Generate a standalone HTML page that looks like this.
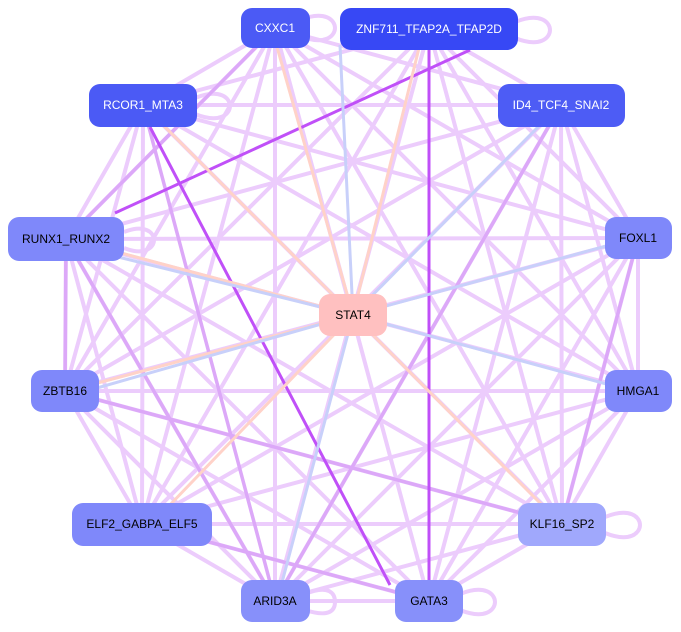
<!DOCTYPE html>
<html><head><meta charset="utf-8"><style>
html,body{margin:0;padding:0;background:#fff;width:681px;height:632px;overflow:hidden}
svg{display:block}
text{font-family:"Liberation Sans",sans-serif;font-size:12px;text-anchor:middle;dominant-baseline:central}
.l{stroke:#ecccfc;stroke-width:4;fill:none}
.m{stroke:#dca8f8;stroke-width:3.5;fill:none}
.d{stroke:#c050f8;stroke-width:3;fill:none}
.p{stroke:#ffd2c8;stroke-width:3;fill:none}
.b{stroke:#c8d0fa;stroke-width:3;fill:none}
</style></head><body>
<svg width="681" height="632" viewBox="0 0 681 632">
<g class="l">
<path d="M275 28L143 105M275 28L561 105M275 28L66 239M275 28L638 238M275 28L65 391M275 28L638 391M275 28L142 524M275 28L562 524M275 28L275 601M275 28L429 601"/>
<path d="M429 29L143 105M429 29L561 105M429 29L638 238M429 29L65 391M429 29L638 391M429 29L142 524M429 29L562 524M429 29L275 601"/>
<path d="M143 105L561 105M143 105L66 239M143 105L638 238M143 105L65 391M143 105L638 391M143 105L142 524M143 105L562 524"/>
<path d="M561 105L66 239M561 105L638 238M561 105L65 391M561 105L638 391M561 105L142 524M561 105L562 524M561 105L275 601M561 105L429 601"/>
<path d="M66 239L638 238M66 239L65 391M66 239L638 391M66 239L142 524M66 239L562 524M66 239L275 601M66 239L429 601"/>
<path d="M638 238L65 391M638 238L638 391M638 238L142 524M638 238L562 524M638 238L275 601M638 238L429 601"/>
<path d="M65 391L638 391M65 391L142 524M65 391L562 524M65 391L275 601M65 391L429 601"/>
<path d="M638 391L142 524M638 391L562 524M638 391L275 601M638 391L429 601"/>
<path d="M142 524L562 524M142 524L275 601M142 524L429 601M562 524L275 601M562 524L429 601M275 601L429 601"/>
<path d="M300 20c25-10 35 0 35 8s-10 18-35 8M515 22c25-10 35 0 35 8s-10 18-35 8M195 98c25-10 35 0 35 8s-10 18-35 8M124 232c20-8 30 0 30 8s-10 16-30 8M605 517c25-10 35 0 35 8s-10 18-35 8M460 594c25-10 35 0 35 8s-10 18-35 8M305 594c25-10 30 0 30 8s-5 16-30 8"/>
</g>
<g class="m">
<path d="M143 105L275 601M66 239L65 391M275 28L66 239M66 239L275 601M142 524L429 601M561 105L275 601M65 391L562 524M638 238L562 524"/>
</g>
<g class="d">
<path d="M470 50L115 213M429 50L429 590M150 127L390 585"/>
</g>
<g>
<path class="p" d="M353 315L275 40M353 315L420 44M353 315L160 122M353 315L110 250M353 315L90 385M353 315L165 510M353 315L545 508"/>
<path class="b" d="M353 315L540 125M353 315L610 245M353 315L610 385M353 315L280 590M353 315L340 45M353 315L110 255M353 315L90 390"/>
</g>
<g>
<rect x="241" y="8" width="69" height="40" rx="11" fill="#4b5af5"/><text x="275" y="28" fill="#fff">CXXC1</text>
<rect x="340" y="8" width="178" height="42" rx="11" fill="#3748f5"/><text x="429" y="29" fill="#fff">ZNF711_TFAP2A_TFAP2D</text>
<rect x="89" y="84" width="108" height="43" rx="11" fill="#4b5af5"/><text x="143" y="105" fill="#fff">RCOR1_MTA3</text>
<rect x="498" y="84" width="127" height="43" rx="11" fill="#4d5cf5"/><text x="561" y="105" fill="#fff">ID4_TCF4_SNAI2</text>
<rect x="8" y="217" width="116" height="44" rx="11" fill="#7f88fa"/><text x="66" y="239">RUNX1_RUNX2</text>
<rect x="605" y="217" width="67" height="42" rx="11" fill="#7f88fa"/><text x="638" y="238">FOXL1</text>
<rect x="319" y="294" width="68" height="42" rx="11" fill="#ffc0c0"/><text x="353" y="315">STAT4</text>
<rect x="31" y="370" width="68" height="42" rx="11" fill="#7f88fa"/><text x="65" y="391">ZBTB16</text>
<rect x="605" y="370" width="67" height="42" rx="11" fill="#7f88fa"/><text x="638" y="391">HMGA1</text>
<rect x="72" y="503" width="140" height="43" rx="11" fill="#7f88fa"/><text x="142" y="524">ELF2_GABPA_ELF5</text>
<rect x="518" y="503" width="88" height="43" rx="11" fill="#a0a8fc"/><text x="562" y="524">KLF16_SP2</text>
<rect x="241" y="580" width="69" height="42" rx="11" fill="#8790fa"/><text x="275" y="601">ARID3A</text>
<rect x="395" y="580" width="68" height="42" rx="11" fill="#8790fa"/><text x="429" y="601">GATA3</text>
</g>
</svg>
</body></html>
